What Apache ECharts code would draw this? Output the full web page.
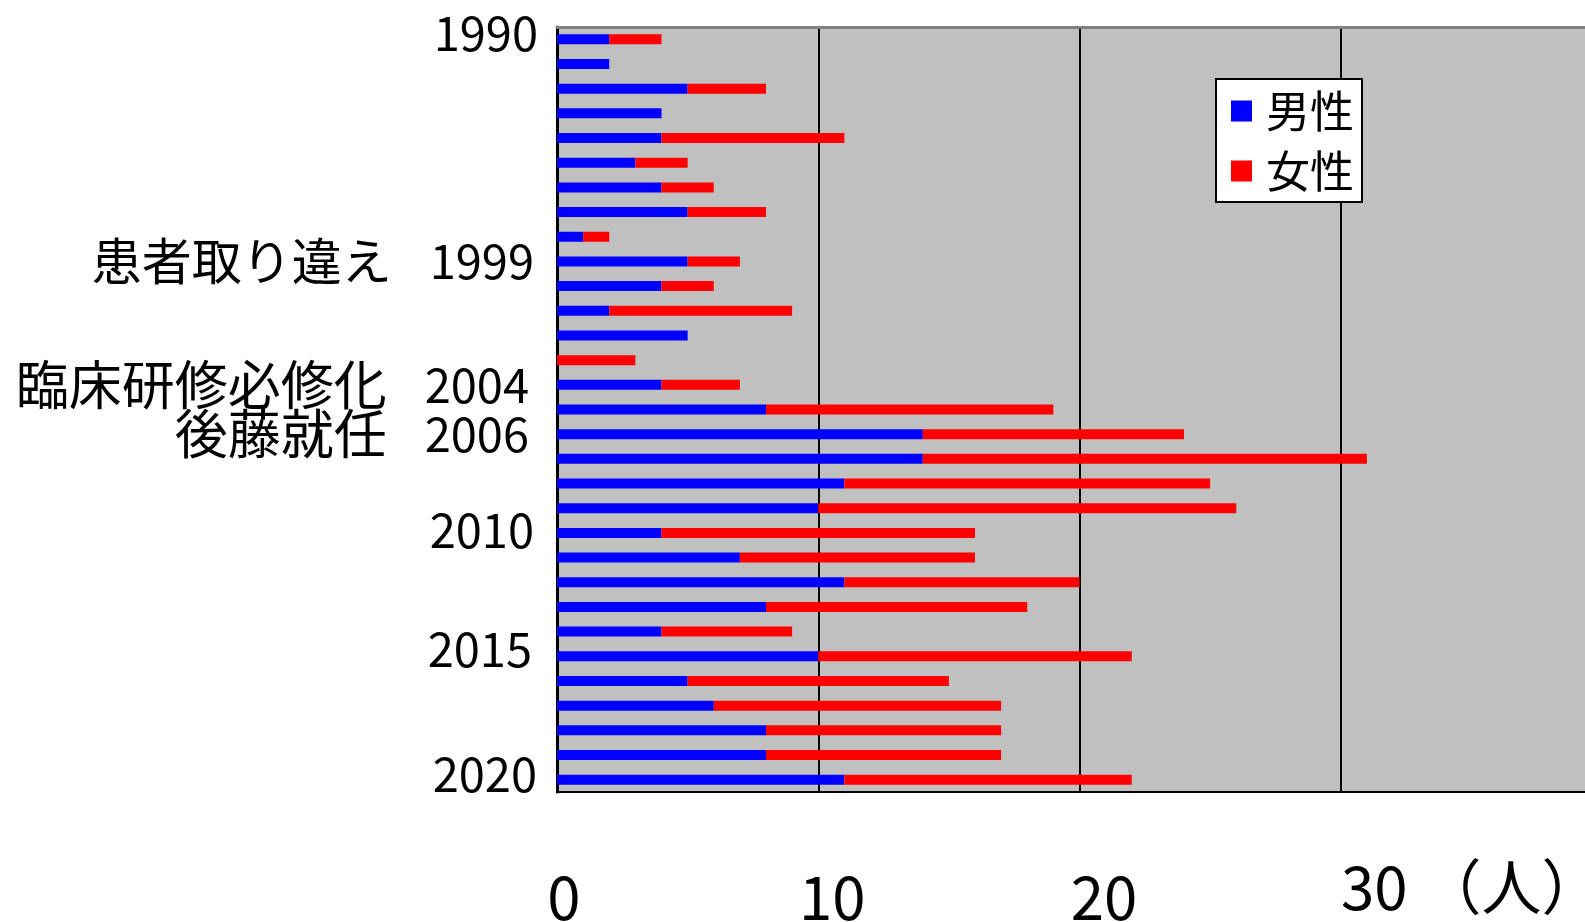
<!DOCTYPE html>
<html><head><meta charset="utf-8">
<script src="https://cdn.jsdelivr.net/npm/echarts@6/dist/echarts.min.js"></script>
<style>html,body{margin:0;padding:0;background:#fff}#c{width:1585px;height:922px}</style>
</head><body><div id="c"></div>
<script>
const years = [1990,1991,1992,1993,1994,1995,1996,1997,1998,1999,2000,2001,2002,2003,2004,2005,2006,2007,2008,2009,2010,2011,2012,2013,2014,2015,2016,2017,2018,2019,2020];
const male   = [2,2,5,4,4,3,4,5,1,5,4,2,5,0,4,8,14,14,11,10,4,7,11,8,4,10,5,6,8,8,11];
const female = [2,0,3,0,7,2,2,3,1,2,2,7,0,3,3,11,10,17,14,16,12,9,9,10,5,12,10,11,9,9,11];
const labeledYears = [1990,1999,2004,2006,2010,2015,2020];
const notes = {1999:'患者取り違え', 2004:'臨床研修必修化', 2006:'後藤就任'};
const xTickLabels = {0:'0', 10:'10', 20:'20', 30:'30'};
const unitOpen = '（', unitText = '人', unitClose = '）';
const seriesNames = ['男性','女性'];

const FONT = '"Noto Sans CJK JP", "Noto Sans", sans-serif';
const chart = echarts.init(document.getElementById('c'), null, {renderer:'canvas'});

// label placement tweaks (shift left px, shift up px) for the year labels
const yLabelShift = {1990:[0,6], 1999:[4,0], 2004:[9,0], 2006:[9,0], 2010:[4,3], 2015:[6,7], 2020:[1,6]};
const yRich = {
  n1:{fontSize:50, fontFamily:FONT, color:'#000'},
  n2:{fontSize:53, fontFamily:FONT, color:'#000'},
  g:{width:38}
};
labeledYears.forEach(y => {
  const s = yLabelShift[y] || [0,0];
  yRich['y' + y] = {fontSize:47, fontFamily:FONT, color:'#000', padding:[0, s[0], s[1]*2, 0]};
});

const base = {fontSize:60, fontFamily:FONT, color:'#000'};
const xRich = {
  a:Object.assign({}, base, {padding:[10,0,0,14]}),
  b:Object.assign({}, base, {padding:[10,0,0,28]}),
  c:Object.assign({}, base, {padding:[10,0,0,49]}),
  d:Object.assign({}, base, {padding:[0,0,0,261]}),
  p:Object.assign({}, base, {padding:[0,0,0,14]}),
  u:Object.assign({}, base),
  q:Object.assign({}, base)
};
const xKey = {0:'a',10:'b',20:'c',30:'d'};

chart.setOption({
  animation:false,
  backgroundColor:'#fff',
  grid:{left:557, top:27, width:1045, bottom:130, outerBoundsMode:'none', containLabel:false,
        show:true, backgroundColor:'#C0C0C0', borderWidth:0},
  legend:{
    orient:'vertical', left:1216, top:79,
    data:seriesNames, icon:'rect', itemWidth:21, itemHeight:21, itemGap:16,
    backgroundColor:'#fff', borderColor:'#000', borderWidth:2,
    padding:[10,8,9,15],
    textStyle:{fontSize:44, fontFamily:FONT, color:'#000', lineHeight:44, padding:[0,0,0,9]}
  },
  xAxis:[{
    type:'value', min:0, max:40, interval:10,
    axisLine:{show:true, lineStyle:{color:'#000', width:2}},
    axisTick:{show:false},
    splitLine:{show:true, lineStyle:{color:'#000', width:2}},
    axisLabel:{
      margin:65, verticalAlign:'top', align:'center', showMaxLabel:true,
      formatter:v => {
        if (!(v in xTickLabels)) return '';
        if (v === 30) return '{d|' + xTickLabels[v] + '}{p|' + unitOpen + '}{u|' + unitText + '}{q|' + unitClose + '}';
        return '{' + xKey[v] + '|' + xTickLabels[v] + '}';
      },
      rich:xRich
    }
  },{
    type:'value', min:0, max:40, interval:10, position:'top',
    axisLine:{show:true, lineStyle:{color:'#808080', width:3}},
    axisTick:{show:false}, axisLabel:{show:false}, splitLine:{show:false}
  }],
  yAxis:{
    type:'category', data:years, inverse:true,
    axisLine:{show:true, lineStyle:{color:'#000', width:3}},
    axisTick:{show:false},
    splitLine:{show:false},
    axisLabel:{
      interval:0, margin:19,
      formatter:v => {
        const y = Number(v);
        if (labeledYears.indexOf(y) < 0) return '';
        if (notes[y]) return '{' + (y === 1999 ? 'n1' : 'n2') + '|' + notes[y] + '}{g|}{y' + y + '|' + y + '}';
        return '{y' + y + '|' + y + '}';
      },
      rich:yRich
    }
  },
  series:[
    {name:seriesNames[0], type:'bar', stack:'t', data:male, barWidth:10, itemStyle:{color:'#0000FF'}, xAxisIndex:0},
    {name:seriesNames[1], type:'bar', stack:'t', data:female, barWidth:10, itemStyle:{color:'#FF0000'}, xAxisIndex:0}
  ]
});
</script></body></html>
